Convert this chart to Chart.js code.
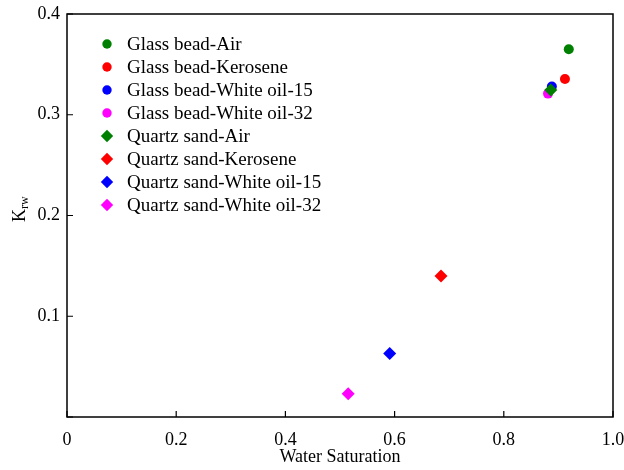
<!DOCTYPE html>
<html>
<head>
<meta charset="utf-8">
<script src="https://cdn.jsdelivr.net/npm/chart.js@4/dist/chart.umd.min.js"></script>
<style>
  html, body { margin: 0; padding: 0; background: #fff; }
  #wrap { width: 624px; height: 470px; }
</style>
</head>
<body>
<div id="wrap"><canvas id="c" width="624" height="470"></canvas></div>
<script>
// Relative permeability to water (K_rw) against water saturation
const seriesNames = [
  'Glass bead-Air', 'Glass bead-Kerosene', 'Glass bead-White oil-15', 'Glass bead-White oil-32',
  'Quartz sand-Air', 'Quartz sand-Kerosene', 'Quartz sand-White oil-15', 'Quartz sand-White oil-32'
];
const waterSaturation = [0.919, 0.912, 0.888, 0.881, 0.886, 0.685, 0.591, 0.515];
const krw = [0.365, 0.3355, 0.328, 0.321, 0.3245, 0.140, 0.063, 0.023];
const seriesColors = ['#008000', '#ff0000', '#0000ff', '#ff00ff', '#008000', '#ff0000', '#0000ff', '#ff00ff'];
const seriesShapes = ['circle', 'circle', 'circle', 'circle', 'rectRot', 'rectRot', 'rectRot', 'rectRot'];
const xTicks = [0, 0.2, 0.4, 0.6, 0.8, 1.0];
const xTickLabels = ['0', '0.2', '0.4', '0.6', '0.8', '1.0'];
const yTicks = [0, 0.1, 0.2, 0.3, 0.4];
const yTickLabels = ['', '0.1', '0.2', '0.3', '0.4'];

const FONT = '"Liberation Serif", "Times New Roman", serif';

const datasets = seriesNames.map((name, i) => ({
  label: name,
  data: [{ x: waterSaturation[i], y: krw[i] }],
  backgroundColor: seriesColors[i],
  borderColor: seriesColors[i],
  borderWidth: 0,
  pointStyle: seriesShapes[i],
  pointRadius: seriesShapes[i] === 'circle' ? 5 : 6.5,
  order: seriesNames.length - i
}));

// frame, inward ticks, y-axis title with subscript and the legend
const decorations = {
  id: 'decorations',
  afterDraw(chart) {
    const ctx = chart.ctx;
    const { left, right, top, bottom } = chart.chartArea;
    const xs = chart.scales.x, ys = chart.scales.y;
    ctx.save();
    ctx.strokeStyle = '#000';
    ctx.lineWidth = 1.5;
    ctx.strokeRect(left, top, right - left, bottom - top);
    ctx.lineWidth = 1.2;
    ctx.beginPath();
    xTicks.forEach(v => {
      const px = xs.getPixelForValue(v);
      ctx.moveTo(px, bottom); ctx.lineTo(px, bottom - 6);
    });
    yTicks.forEach(v => {
      const py = ys.getPixelForValue(v);
      ctx.moveTo(left, py); ctx.lineTo(left + 6, py);
    });
    ctx.stroke();

    // y title: K with subscript rw
    ctx.fillStyle = '#000';
    ctx.translate(25, 222);
    ctx.rotate(-Math.PI / 2);
    ctx.textBaseline = 'alphabetic';
    ctx.textAlign = 'left';
    ctx.font = '18px ' + FONT;
    const kw = ctx.measureText('K').width;
    ctx.fillText('K', 0, 0);
    ctx.font = '12px ' + FONT;
    ctx.fillText('rw', kw, 3);
    ctx.restore();

    // legend
    ctx.save();
    ctx.font = '19px ' + FONT;
    ctx.textBaseline = 'middle';
    ctx.textAlign = 'left';
    seriesNames.forEach((name, i) => {
      const y = 44 + i * 23;
      ctx.fillStyle = seriesColors[i];
      ctx.strokeStyle = seriesColors[i];
      Chart.helpers.drawPoint(ctx, {
        pointStyle: seriesShapes[i],
        radius: seriesShapes[i] === 'circle' ? 4.7 : 6.2,
        borderWidth: 0, rotation: 0
      }, 107, y);
      ctx.fillStyle = '#000';
      ctx.fillText(name, 127, y + 1);
    });
    ctx.restore();
  }
};

new Chart(document.getElementById('c'), {
  type: 'scatter',
  data: { datasets },
  options: {
    responsive: false,
    animation: false,
    devicePixelRatio: 1,
    layout: { padding: { left: 0, right: 0, top: 14, bottom: 0 } },
    plugins: { legend: { display: false }, tooltip: { enabled: false } },
    scales: {
      x: {
        type: 'linear', min: 0, max: 1,
        afterFit(s) { s.height = 53; s.paddingRight = 11; s.paddingLeft = 0; },
        afterBuildTicks(s) { s.ticks = xTicks.map(v => ({ value: v })); },
        grid: { display: false, drawTicks: false },
        border: { display: false },
        ticks: {
          padding: 12, color: '#000', maxRotation: 0,
          font: { family: FONT, size: 18 },
          callback: (v) => xTickLabels[xTicks.indexOf(v)] ?? ''
        },
        title: {
          display: true, text: 'Water Saturation', color: '#000',
          font: { family: FONT, size: 18 }, padding: { top: 0, bottom: 2 }
        }
      },
      y: {
        type: 'linear', min: 0, max: 0.4,
        afterFit(s) { s.width = 67; s.paddingTop = 0; s.paddingBottom = 0; },
        afterBuildTicks(s) { s.ticks = yTicks.map(v => ({ value: v })); },
        grid: { display: false, drawTicks: false },
        border: { display: false },
        ticks: {
          padding: 7, color: '#000',
          font: { family: FONT, size: 18 },
          callback: (v) => yTickLabels[yTicks.indexOf(v)] ?? ''
        }
      }
    }
  },
  plugins: [decorations]
});
</script>
</body>
</html>
